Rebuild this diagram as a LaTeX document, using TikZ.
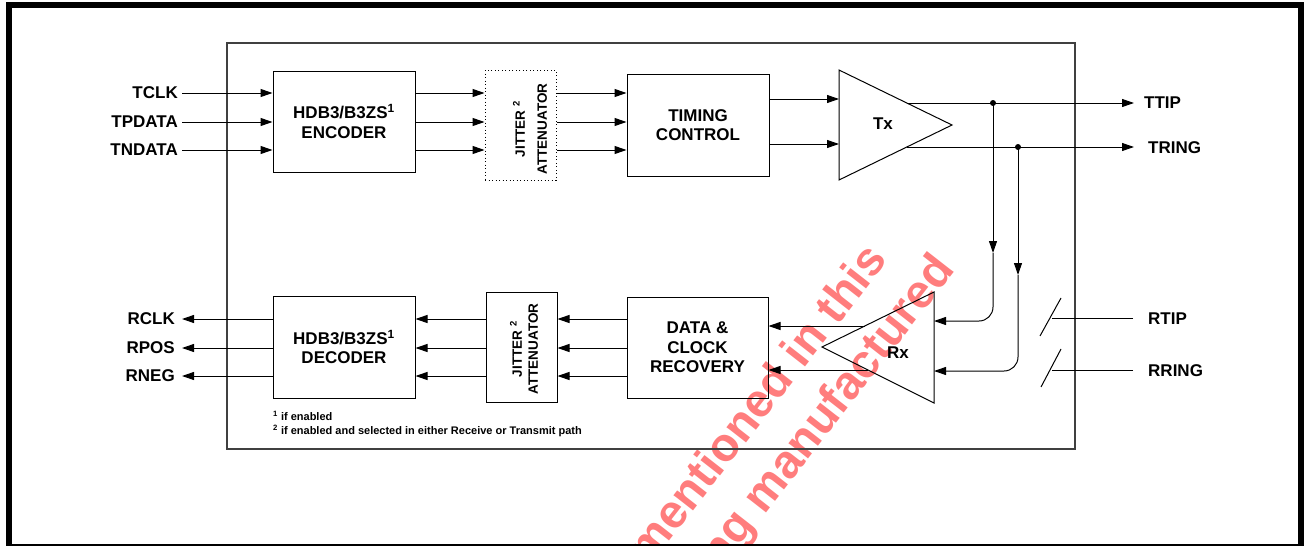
\documentclass[tikz,border=0pt]{standalone}
\usepackage{fontspec}
\setmainfont{Liberation Sans}
\usetikzlibrary{arrows.meta}
\definecolor{wmred}{RGB}{255,125,125}
\begin{document}
\begin{tikzpicture}[x=1pt,y=-1pt,
  arr/.style={-{Triangle[length=12pt,width=8pt]}, line width=1pt},
  ln/.style={line width=1pt},
  blk/.style={draw, line width=1pt, inner sep=0pt, align=center,
              font=\fontsize{17}{19.5}\selectfont\bfseries},
  lbl/.style={font=\fontsize{17}{19}\selectfont\bfseries, inner sep=2pt},
  jit/.style={font=\fontsize{13.5}{16}\selectfont\bfseries, align=center, rotate=90, inner sep=0pt},
  foot/.style={font=\fontsize{11}{13}\selectfont\bfseries, inner sep=0pt},
  wm/.style={font=\fontsize{47}{55}\selectfont\bfseries, text=wmred, inner sep=0pt, rotate=52},
]
\useasboundingbox (0,0) rectangle (1304,546);

% watermark
\node[wm, anchor=base east] (wm1) at (889,260) {mentioned in this};
\node[wm, anchor=base east] (wm2) at (956,270) {ng manufactured};

% outer frame and chip outline
\draw[line width=6pt] (9,5) rectangle (1301,547);
\node[draw, line width=1.2pt, black!75, minimum width=848pt, minimum height=406pt, inner sep=0pt] (chip) at (651,246) {};

% transmit blocks
\node[blk, minimum width=142pt, minimum height=101pt] (enc) at (344,121.5) {HDB3/B3ZS\textsuperscript{1}\\ENCODER};
\node[draw, line width=1pt, dash pattern=on 1pt off 2.5pt, minimum width=71pt, minimum height=110pt, inner sep=0pt] (jit1) at (520.5,125) {};
\node[jit] (jit1t) at (530,129) {JITTER \textsuperscript{2}\\[6pt]ATTENUATOR};
\node[blk, minimum width=142pt, minimum height=102pt] (tc) at (698,125) {TIMING\\CONTROL};

% Tx
\coordinate (txa) at (839,70);
\coordinate (txb) at (952,125);
\coordinate (txc) at (839,180);
\draw[ln] (txa) -- (txb) -- (txc) -- cycle;
\node[lbl] (txl) at (883,124) {Tx};
\coordinate (txin1) at (839,99);
\coordinate (txin2) at (839,144);
\coordinate (ttipo) at (906.8,103);
\coordinate (tringo) at (906.8,147);

% receive blocks
\node[blk, minimum width=142pt, minimum height=102pt] (dec) at (344,347) {HDB3/B3ZS\textsuperscript{1}\\DECODER};
\node[blk, minimum width=71pt, minimum height=110pt] (jit2) at (521.5,347) {};
\node[jit] (jit2t) at (524,349) {JITTER \textsuperscript{2}\\ATTENUATOR};
\node[blk, minimum width=141pt, minimum height=101pt] (dcr) at (697.5,347.5) {DATA \&\\CLOCK\\RECOVERY};

% Rx
\coordinate (rxa) at (934,292);
\coordinate (rxb) at (822,347);
\coordinate (rxc) at (934,403);
\draw[ln] (rxa) -- (rxb) -- (rxc) -- cycle;
\node[lbl] (rxl) at (898,353) {Rx};
\coordinate (rxin1) at (934,321);
\coordinate (rxin2) at (934,371);
\coordinate (rxo1) at (865,326);
\coordinate (rxo2) at (868,370);

% pin labels
\node[lbl, anchor=east] (tclk) at (180,93) {TCLK};
\node[lbl, anchor=east] (tpdata) at (180,122) {TPDATA};
\node[lbl, anchor=east] (tndata) at (180,150) {TNDATA};
\node[lbl, anchor=east] (rclk) at (177,319) {RCLK};
\node[lbl, anchor=east] (rpos) at (177,348) {RPOS};
\node[lbl, anchor=east] (rneg) at (177,376) {RNEG};
\node[lbl, anchor=west] (ttip) at (1142,103) {TTIP};
\node[lbl, anchor=west] (tring) at (1146,148) {TRING};
\node[lbl, anchor=west] (rtip) at (1146,319) {RTIP};
\node[lbl, anchor=west] (rring) at (1146,371) {RRING};

% transmit connectors
\foreach \s in {tclk,tpdata,tndata}{
  \draw[arr, shorten <=2pt] (\s.east) -- (enc.west |- \s.east);
  \draw[arr] (enc.east |- \s.east) -- (jit1.west |- \s.east);
  \draw[arr] (jit1.east |- \s.east) -- (tc.west |- \s.east);
}
\draw[arr] (tc.east |- txin1) -- (txin1);
\draw[arr] (tc.east |- txin2) -- (txin2);
\draw[arr, shorten >=8pt] (ttipo) -- (ttip.west);
\draw[arr, shorten >=12pt] (tringo) -- (tring.west |- tringo);

% loop-back taps
\coordinate (j1) at (993,103);
\coordinate (j2) at (1018,147);
\fill (j1) circle (3pt);
\fill (j2) circle (3pt);
\coordinate (j1m) at (993,253);
\coordinate (j2m) at (1018,275);
\draw[arr] (j1) -- (j1m);
\draw[arr] (j2) -- (j2m);
\draw[arr, rounded corners=14pt] (j1m) -- (j1 |- rxin1) -- (rxin1);
\draw[arr, rounded corners=14pt] (j2m) -- (j2 |- rxin2) -- (rxin2);

% receive line inputs
\coordinate (rtipe) at (1052,318);
\coordinate (rringe) at (1052,370);
\draw[ln, shorten <=13pt] (rtip.west |- rtipe) -- (rtipe);
\draw[ln, shorten <=13pt] (rring.west |- rringe) -- (rringe);
\draw[ln] (1040,336) -- (1061,298);
\draw[ln] (1041,387) -- (1061,349);

% receive connectors
\draw[arr] (rxo1) -- (dcr.east |- rxo1);
\draw[arr] (rxo2) -- (dcr.east |- rxo2);
\foreach \s in {rclk,rpos,rneg}{
  \draw[arr] (dcr.west |- \s.east) -- (jit2.east |- \s.east);
  \draw[arr] (jit2.west |- \s.east) -- (dec.east |- \s.east);
  \draw[arr, shorten >=5pt] (dec.west |- \s.east) -- (\s.east);
}

% footnotes
\node[foot, anchor=base west] (fn1) at (273,420) {\textsuperscript{1} if enabled};
\node[foot, anchor=base west] (fn2) at (273,434.5) {\textsuperscript{2} if enabled and selected in either Receive or Transmit path};
\end{tikzpicture}
\end{document}
